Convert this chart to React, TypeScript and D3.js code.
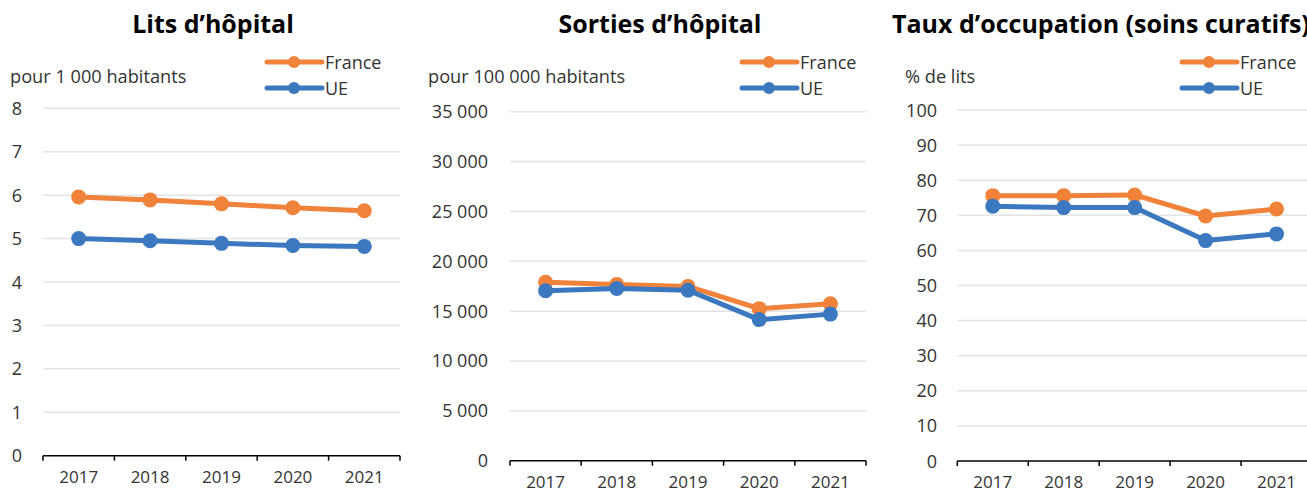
import React from "react";
import * as d3 from "d3";

const years = ["2017", "2018", "2019", "2020", "2021"];

const litsFrance = [5.96, 5.89, 5.8, 5.71, 5.64];
const litsUE = [5.0, 4.95, 4.89, 4.84, 4.82];

const sortiesFrance = [17900, 17680, 17480, 15250, 15730];
const sortiesUE = [17050, 17270, 17100, 14150, 14700];

const tauxFrance = [75.6, 75.6, 75.8, 69.8, 71.8];
const tauxUE = [72.6, 72.2, 72.2, 62.8, 64.7];

const litsTicks = [0, 1, 2, 3, 4, 5, 6, 7, 8];
const sortiesTicks = [0, 5000, 10000, 15000, 20000, 25000, 30000, 35000];
const tauxTicks = [0, 10, 20, 30, 40, 50, 60, 70, 80, 90, 100];

const ORANGE = "#F0823A";
const BLUE = "#3B78C0";
const TEXT = "#333333";
const FONT = "'Open Sans', 'Noto Sans', sans-serif";

const fmtSpace = (v: number) => d3.format(",")(v).replace(/,/g, " ");

type PanelProps = {
  title: string;
  titleX: number;
  titleAnchor: "middle" | "start";
  unit: string;
  unitX: number;
  x0: number;
  x1: number;
  yTop: number;
  yBottom: number;
  yMax: number;
  ticks: number[];
  labelRight: number;
  france: number[];
  ue: number[];
  legendX: number;
  fmt: (v: number) => string;
};

function Panel(p: PanelProps) {
  const x = d3.scaleBand<string>().domain(years).range([p.x0, p.x1]);
  const y = d3.scaleLinear().domain([0, p.yMax]).range([p.yBottom, p.yTop]);
  const line = d3
    .line<number>()
    .x((_, i) => (x(years[i]) as number) + x.bandwidth() / 2)
    .y((d) => y(d));
  const boundaries = [...years.map((yr) => x(yr) as number), p.x1];
  const series = [
    { name: "France", data: p.france, color: ORANGE },
    { name: "UE", data: p.ue, color: BLUE },
  ];
  return (
    <g>
      <text
        x={p.titleX}
        y={33}
        textAnchor={p.titleAnchor}
        fontFamily={FONT}
        fontWeight={700}
        fontSize={25}
        fill="#000"
      >
        {p.title}
      </text>
      <text x={p.unitX} y={83} fontFamily={FONT} fontSize={18.2} fill={TEXT}>
        {p.unit}
      </text>
      {series.map((s, i) => (
        <g key={s.name}>
          <line
            x1={p.legendX}
            x2={p.legendX + 55}
            y1={62 + i * 26}
            y2={62 + i * 26}
            stroke={s.color}
            strokeWidth={5}
            strokeLinecap="round"
          />
          <circle cx={p.legendX + 27} cy={62 + i * 26} r={6} fill={s.color} />
          <text
            x={p.legendX + 58}
            y={68.5 + i * 26}
            fontFamily={FONT}
            fontSize={18}
            fill={TEXT}
          >
            {s.name}
          </text>
        </g>
      ))}
      {p.ticks.map((t) => (
        <g key={t}>
          {t !== 0 && (
            <line
              x1={p.x0}
              x2={p.x1}
              y1={y(t)}
              y2={y(t)}
              stroke="#e4e4e4"
              strokeWidth={1.5}
            />
          )}
          <text
            x={p.labelRight}
            y={y(t) + 6.5}
            textAnchor="end"
            fontFamily={FONT}
            fontSize={18}
            fill={TEXT}
          >
            {p.fmt(t)}
          </text>
        </g>
      ))}
      <line
        x1={p.x0}
        x2={p.x1}
        y1={p.yBottom}
        y2={p.yBottom}
        stroke="#000"
        strokeWidth={1.5}
      />
      {boundaries.map((b, i) => (
        <line
          key={i}
          x1={b}
          x2={b}
          y1={p.yBottom}
          y2={p.yBottom + 5}
          stroke="#000"
          strokeWidth={1.5}
        />
      ))}
      {years.map((yr) => (
        <text
          key={yr}
          x={(x(yr) as number) + x.bandwidth() / 2}
          y={p.yBottom + 27}
          textAnchor="middle"
          fontFamily={FONT}
          fontSize={17}
          fill={TEXT}
        >
          {yr}
        </text>
      ))}
      {series.map((s) => (
        <g key={s.name}>
          <path
            d={line(s.data) as string}
            fill="none"
            stroke={s.color}
            strokeWidth={5}
            strokeLinejoin="round"
          />
          {s.data.map((v, i) => (
            <circle
              key={i}
              cx={(x(years[i]) as number) + x.bandwidth() / 2}
              cy={y(v)}
              r={7.5}
              fill={s.color}
            />
          ))}
        </g>
      ))}
    </g>
  );
}

export default function App() {
  return (
    <svg
      width={1307}
      height={495}
      style={{ position: "absolute", left: 0, top: 0, background: "#fff" }}
    >
      <rect width={1307} height={495} fill="#fff" />
      <Panel
        title="Lits d’hôpital"
        titleX={213}
        titleAnchor="middle"
        unit="pour 1 000 habitants"
        unitX={10}
        x0={43}
        x1={400}
        yTop={108.3}
        yBottom={455.7}
        yMax={8}
        ticks={litsTicks}
        labelRight={22}
        france={litsFrance}
        ue={litsUE}
        legendX={267}
        fmt={(v) => String(v)}
      />
      <Panel
        title="Sorties d’hôpital"
        titleX={660}
        titleAnchor="middle"
        unit="pour 100 000 habitants"
        unitX={428}
        x0={510}
        x1={866}
        yTop={111.7}
        yBottom={460.7}
        yMax={35000}
        ticks={sortiesTicks}
        labelRight={488}
        france={sortiesFrance}
        ue={sortiesUE}
        legendX={742}
        fmt={fmtSpace}
      />
      <Panel
        title="Taux d’occupation (soins curatifs)"
        titleX={892}
        titleAnchor="start"
        unit="% de lits"
        unitX={905}
        x0={957.3}
        x1={1312}
        yTop={110}
        yBottom={461}
        yMax={100}
        ticks={tauxTicks}
        labelRight={937}
        france={tauxFrance}
        ue={tauxUE}
        legendX={1182}
        fmt={(v) => String(v)}
      />
    </svg>
  );
}
